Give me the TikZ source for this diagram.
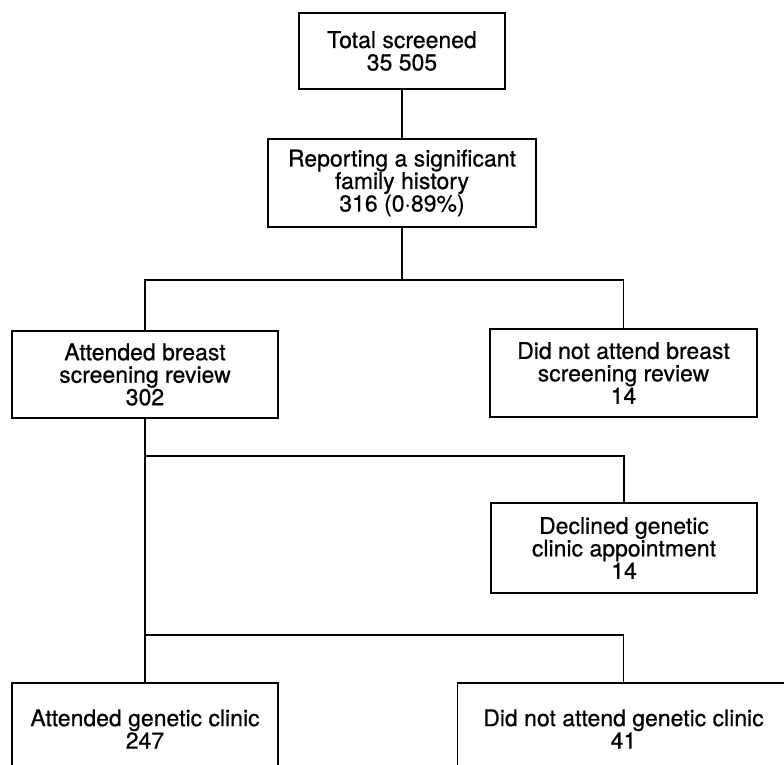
\documentclass[tikz,border=0pt]{standalone}
\usepackage{fontspec}
\setmainfont{TeX Gyre Heros}
\newfontfamily\boxfont[FakeBold=0.6]{TeX Gyre Heros}
\begin{document}
\begin{tikzpicture}[x=1pt,y=-1pt,
  box/.style={draw,line width=1.8pt,rectangle,inner sep=0pt,align=center,
              font=\boxfont\fontsize{23}{22.5}\selectfont},
  conn/.style={line width=1.1pt}]
\useasboundingbox (0,0) rectangle (784,764);
\clip (0,0) rectangle (784,764);
\node[box,minimum width=206pt,minimum height=76pt] (top) at (402,51) {Total screened\\35 505};
\node[box,minimum width=268pt,minimum height=88pt] (fam) at (402,183) {Reporting a significant\\family history\\316 (0·89\%)};
\node[box,minimum width=266pt,minimum height=87pt] (att) at (145,374.5) {Attended breast\\screening review\\302};
\node[box,minimum width=267pt,minimum height=88pt] (dna) at (623.5,373) {Did not attend breast\\screening review\\14};
\node[box,minimum width=266pt,minimum height=90pt] (dec) at (624,548) {Declined genetic\\clinic appointment\\14};
\node[box,minimum width=266pt,minimum height=92pt] (agc) at (145,729) {Attended genetic clinic\\247};
\node[box,minimum width=332pt,minimum height=92pt] (dnagc) at (623.5,729) {Did not attend genetic clinic\\41};
\coordinate (b1) at (0,280);
\coordinate (b2) at (0,456);
\coordinate (b3) at (0,635);
\draw[conn] (top) -- (fam);
\draw[conn] (fam.south) -- (fam.south |- b1);
\draw[conn] (att.north) -- (att.north |- b1) -- (dna.north |- b1) -- (dna.north);
\draw[conn] (att.south) -- (agc.north);
\draw[conn] (att.south |- b2) -- (dec.north |- b2) -- (dec.north);
\draw[conn] (agc.north |- b3) -- (dnagc.north |- b3) -- (dnagc.north);
\end{tikzpicture}
\end{document}
